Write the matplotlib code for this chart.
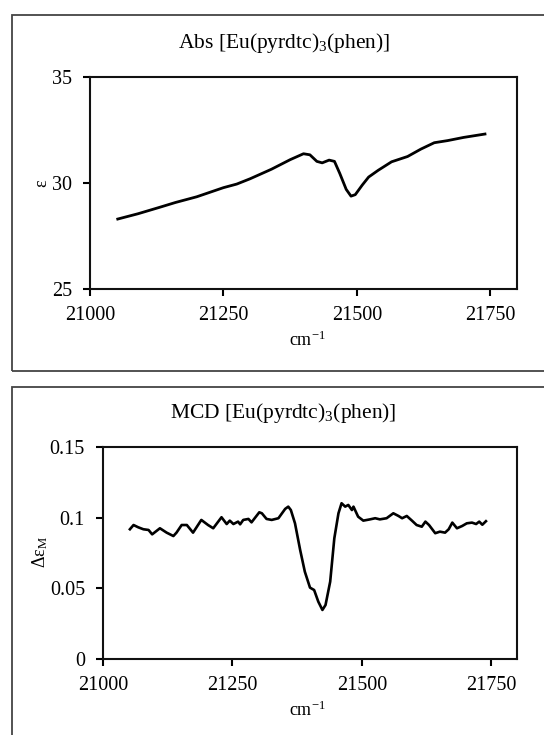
import matplotlib
matplotlib.use("Agg")
import matplotlib.pyplot as plt
from matplotlib.patches import Rectangle

plt.rcParams['font.family'] = ['Liberation Serif', 'DejaVu Serif']
plt.rcParams['mathtext.fontset'] = 'custom'
plt.rcParams['mathtext.rm'] = 'Liberation Serif'
plt.rcParams['mathtext.it'] = 'Liberation Serif:italic'

# Absorption spectrum
abs_x = [21052, 21090, 21130, 21160, 21200, 21250, 21275, 21300, 21340, 21375,
         21400, 21412, 21425, 21435, 21448, 21458, 21468, 21480, 21489, 21497,
         21510, 21522, 21540, 21565, 21595, 21620, 21645, 21670, 21700, 21740]
abs_y = [28.30, 28.55, 28.85, 29.08, 29.35, 29.78, 29.95, 30.20, 30.65, 31.10,
         31.38, 31.33, 31.02, 30.95, 31.08, 31.02, 30.45, 29.70, 29.38, 29.45,
         29.90, 30.28, 30.60, 31.00, 31.25, 31.60, 31.90, 32.00, 32.15, 32.31]

# MCD spectrum
mcd_x = [21052, 21059, 21068, 21078, 21088, 21095, 21110, 21123, 21136, 21142,
         21152, 21162, 21174, 21190, 21203, 21213, 21229, 21239, 21245, 21252,
         21261, 21265, 21271, 21281, 21287, 21302, 21307, 21316, 21326, 21339,
         21352, 21358, 21363, 21371, 21381, 21390, 21400, 21408, 21416, 21424,
         21430, 21439, 21447, 21455, 21461, 21468, 21474, 21481, 21484, 21493,
         21503, 21516, 21526, 21535, 21548, 21561, 21571, 21578, 21587, 21597,
         21606, 21616, 21623, 21630, 21642, 21651, 21661, 21668, 21675, 21684,
         21694, 21703, 21713, 21721, 21727, 21733, 21740]
mcd_y = [0.0918, 0.0948, 0.0932, 0.0918, 0.0913, 0.0882, 0.0925, 0.0894, 0.0870, 0.0894,
         0.0948, 0.0948, 0.0894, 0.0984, 0.0948, 0.0925, 0.1003, 0.0955, 0.0979, 0.0955,
         0.0972, 0.0953, 0.0984, 0.0991, 0.0967, 0.1038, 0.1031, 0.0991, 0.0984, 0.0996,
         0.1062, 0.1078, 0.1054, 0.0960, 0.0771, 0.0618, 0.0505, 0.0488, 0.0406, 0.0347,
         0.0382, 0.0547, 0.0854, 0.1031, 0.1102, 0.1078, 0.1090, 0.1054, 0.1078, 0.1007,
         0.0979, 0.0988, 0.0996, 0.0988, 0.0996, 0.1031, 0.1012, 0.0996, 0.1012, 0.0979,
         0.0948, 0.0936, 0.0972, 0.0948, 0.0890, 0.0901, 0.0894, 0.0918, 0.0965, 0.0925,
         0.0941, 0.0960, 0.0965, 0.0955, 0.0972, 0.0950, 0.0975]

x_ticks = [21000, 21250, 21500, 21750]
abs_yticks = [25, 30, 35]
mcd_yticks = [0, 0.05, 0.1, 0.15]
mcd_yticklabels = ['0', '0.05', '0.1', '0.15']

W, H = 544, 735
fig = plt.figure(figsize=(W / 100, H / 100), dpi=100)

# outer boxes around each panel
fig.add_artist(Rectangle((12 / W, 1 - 371 / H), 1.2, 356 / H, transform=fig.transFigure,
                         fill=False, ec='#444444', lw=1.3, clip_on=False))
fig.add_artist(Rectangle((12 / W, -0.2), 1.2, 0.2 + 1 - 387 / H, transform=fig.transFigure,
                         fill=False, ec='#444444', lw=1.3, clip_on=False))

ax1 = fig.add_axes([90 / W, 1 - 289 / H, 427 / W, 212 / H])
ax2 = fig.add_axes([103 / W, 1 - 659 / H, 414 / W, 212 / H])


def style(ax):
    for s in ax.spines.values():
        s.set_linewidth(1.5)
        s.set_color('#111111')
    ax.tick_params(direction='out', length=5, width=1.5, labelsize=14.5,
                   top=False, right=False)
    ax.tick_params(axis='x', pad=7)
    ax.tick_params(axis='y', pad=8)
    ax.set_xlim(21000, 21800)
    ax.set_xticks(x_ticks)


ax1.plot(abs_x, abs_y, color='black', lw=2.0)
style(ax1)
ax1.set_ylim(25, 35)
ax1.set_yticks(abs_yticks)

ax2.plot(mcd_x, mcd_y, color='black', lw=1.9)
style(ax2)
ax2.set_ylim(0, 0.15)
ax2.set_yticks(mcd_yticks)
ax2.set_yticklabels(mcd_yticklabels)

fig.text(284 / W, 1 - 43 / H, 'Abs [Eu(pyrdtc)$_3$(phen)]', ha='center', va='center', fontsize=15.5)
fig.text(283 / W, 1 - 413 / H, 'MCD [Eu(pyrdtc)$_3$(phen)]', ha='center', va='center', fontsize=15.5)
fig.text(307 / W, 1 - 340 / H, 'cm$^{-1}$', ha='center', va='center', fontsize=13)
fig.text(307 / W, 1 - 710 / H, 'cm$^{-1}$', ha='center', va='center', fontsize=13)
fig.text(42 / W, 1 - 183 / H, 'ε', ha='center', va='center', fontsize=13, rotation=90)
fig.text(40 / W, 1 - 552 / H, 'Δε$_\\mathrm{M}$', ha='center', va='center', fontsize=13, rotation=90)

fig.savefig('out.png', dpi=100)
